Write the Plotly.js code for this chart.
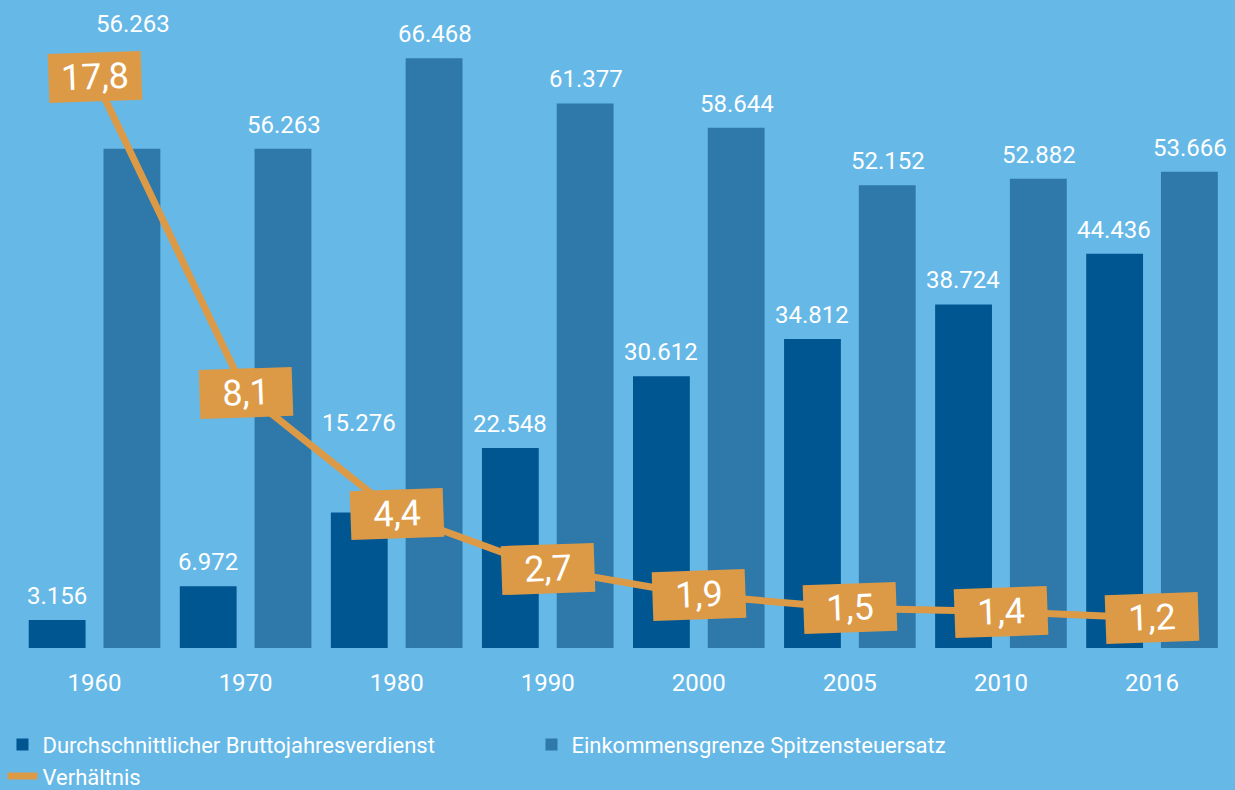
<!DOCTYPE html>
<html>
<head>
<meta charset="utf-8">
<script src="https://cdn.plot.ly/plotly-3.0.1.min.js"></script>
<style>html,body{margin:0;padding:0;background:#66b8e7;}</style>
</head>
<body>
<div id="chart" style="width:1235px;height:790px;"></div>
<script>
const years = ['1960', '1970', '1980', '1990', '2000', '2005', '2010', '2016'];
const verdienst = [3156, 6972, 15276, 22548, 30612, 34812, 38724, 44436];
const grenze = [56263, 56263, 66468, 61377, 58644, 52152, 52882, 53666];
const verhaeltnis = [17.8, 8.1, 4.4, 2.7, 1.9, 1.5, 1.4, 1.2];
const seriesNames = ['Durchschnittlicher Bruttojahresverdienst', 'Einkommensgrenze Spitzensteuersatz', 'Verhältnis'];

const BG = '#66b8e7', DARK = '#005691', MED = '#2e78aa', ORANGE = '#dc9a46';
const FONT = 'Roboto, "Open Sans", sans-serif';

const fmtThousands = v => String(v).replace(/\B(?=(\d{3})+(?!\d))/g, '.');
const fmtRatio = v => v.toFixed(1).replace('.', ',');

const traces = [
  {type: 'bar', name: seriesNames[0], x: years, y: verdienst, marker: {color: DARK}, hoverinfo: 'skip'},
  {type: 'bar', name: seriesNames[1], x: years, y: grenze, marker: {color: MED}, hoverinfo: 'skip'},
  {type: 'scatter', mode: 'lines', name: seriesNames[2], x: years, y: verhaeltnis, yaxis: 'y2',
   line: {color: ORANGE, width: 7}, hoverinfo: 'skip'}
];

const annotations = [];
// value labels above bars (extra lift where a label would collide)
const darkLift = {'1980': 89};
const medLift = {'1960': 125};
years.forEach((yr, i) => {
  annotations.push({x: i, y: verdienst[i], xref: 'x', yref: 'y', text: fmtThousands(verdienst[i]),
    showarrow: false, xshift: -38, yshift: darkLift[yr] || 24, yanchor: 'middle',
    font: {family: FONT, size: 24, color: '#ffffff'}});
  annotations.push({x: i, y: grenze[i], xref: 'x', yref: 'y', text: fmtThousands(grenze[i]),
    showarrow: false, xshift: 38, yshift: medLift[yr] || 24, yanchor: 'middle',
    font: {family: FONT, size: 24, color: '#ffffff'}});
  annotations.push({x: i, y: verhaeltnis[i], xref: 'x', yref: 'y2', text: fmtRatio(verhaeltnis[i]),
    showarrow: false, textangle: -2, width: 90, height: 46, bgcolor: ORANGE,
    font: {family: FONT, size: 36, color: '#ffffff'}});
});

const layout = {
  width: 1235, height: 790,
  margin: {l: 19, r: 6, t: 10, b: 142},
  paper_bgcolor: BG, plot_bgcolor: BG,
  barmode: 'group', bargap: 0.01, bargroupgap: 0.24,
  showlegend: true,
  xaxis: {type: 'category', showgrid: false, zeroline: false, showline: false,
    ticks: 'outside', ticklen: 13, tickcolor: 'rgba(0,0,0,0)',
    tickfont: {family: FONT, size: 24, color: '#ffffff'}},
  yaxis: {range: [0, 71900], visible: false, showgrid: false, zeroline: false},
  yaxis2: {range: [0.28, 19.856], overlaying: 'y', visible: false, showgrid: false, zeroline: false},
  legend: {orientation: 'h', xref: 'container', yref: 'container', x: 0.002, y: 0.084, yanchor: 'top',
    entrywidth: 484, bgcolor: 'rgba(0,0,0,0)', font: {family: FONT, size: 22, color: '#ffffff'}},
  annotations: annotations
};

Plotly.newPlot('chart', traces, layout, {displayModeBar: false, staticPlot: true});
</script>
</body>
</html>
